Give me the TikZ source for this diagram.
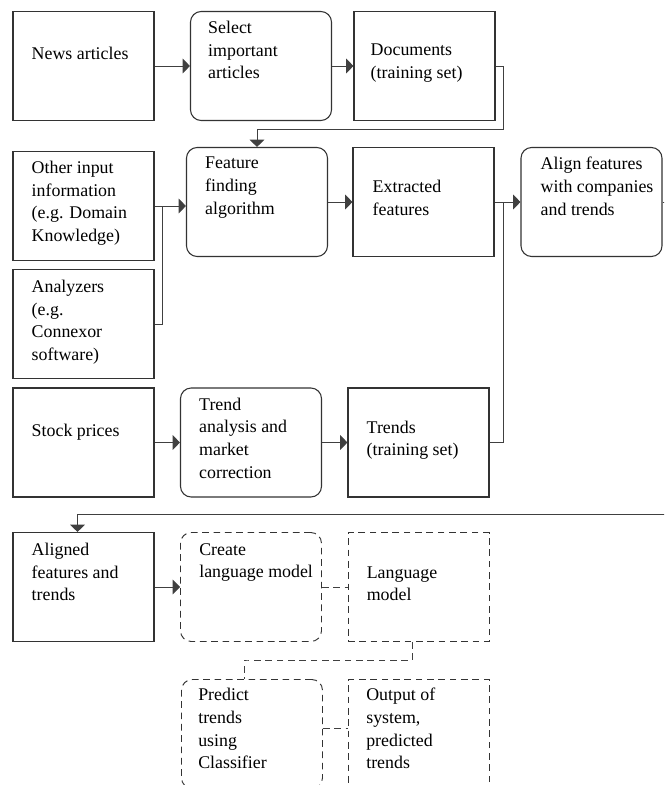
\documentclass[tikz,border=0pt]{standalone}
\usepackage{fontspec}
\setmainfont{Liberation Serif}
\usetikzlibrary{arrows.meta}
\begin{document}
\begin{tikzpicture}[x=0.75pt,y=-0.75pt,
  box/.style={draw=black!80, line width=0.8pt, inner sep=0pt,
    minimum width=105.75pt, minimum height=81.75pt},
  rbox/.style={box, rounded corners=8pt},
  dbox/.style={box, line width=0.7pt, dash pattern=on 5pt off 3.5pt},
  drbox/.style={dbox, rounded corners=8pt},
  txt/.style={anchor=north west, inner sep=0pt, align=left,
    font=\fontsize{13.4}{17}\selectfont, execute at begin node=\strut},
  link/.style={draw=black!75, line width=0.75pt},
  arr/.style={link, -{Triangle[length=5.5pt,width=11pt]}},
  dlink/.style={link, line width=0.7pt, dash pattern=on 5pt off 3.5pt}
]
\useasboundingbox (0,0) rectangle (664,785);
\fill[white] (0,0) rectangle (664,785);
\clip (0,0) rectangle (664,785);

% first row
\node[box]  (news)  at (83.5,66)  {};
\node[rbox] (sel)   at (261,66)   {};
\node[box]  (docs)  at (424.5,66) {};
% second row
\node[box]  (other) at (83.5,206) {};
\node[rbox] (feat)  at (257,202)  {};
\node[box]  (extr)  at (423.5,202) {};
\node[rbox] (align) at (591.5,202) {};
\node[box]  (anal)  at (83.5,324) {};
% third row
\node[box]  (stock) at (83.5,442.5) {};
\node[rbox] (trend) at (251,442.5)  {};
\node[box]  (trends) at (418.5,442.5) {};
% fourth row
\node[box]   (aligned) at (83.5,587) {};
\node[drbox] (create)  at (251,587)  {};
\node[dbox]  (lang)    at (418.5,587) {};
% fifth row
\node[drbox] (pred) at (252,734) {};
\node[dbox]  (outp) at (419,734) {};

% labels
\node[txt] (newsT)   at ([shift={(19,32)}]news.north west)  {News articles};
\node[txt] (selT)    at ([shift={(18,10)}]sel.north west)   {Select\\important\\articles};
\node[txt] (docsT)   at ([shift={(17,33)}]docs.north west)  {Documents\\(training set)};
\node[txt] (otherT)  at ([shift={(19,10)}]other.north west) {Other input\\information\\(e.g. Domain\\Knowledge)};
\node[txt] (featT)   at ([shift={(19,10)}]feat.north west)  {Feature\\finding\\algorithm};
\node[txt] (extrT)   at ([shift={(20,33)}]extr.north west)  {Extracted\\features};
\node[txt] (alignT)  at ([shift={(20,10)}]align.north west) {Align features\\with companies\\and trends};
\node[txt] (analT)   at ([shift={(19,11)}]anal.north west)  {Analyzers\\(e.g.\\Connexor\\software)};
\node[txt] (stockT)  at ([shift={(19,33)}]stock.north west) {Stock prices};
\node[txt] (trendT)  at ([shift={(19,10)}]trend.north west) {Trend\\analysis and\\market\\correction};
\node[txt] (trendsT) at ([shift={(19,33)}]trends.north west) {Trends\\(training set)};
\node[txt] (alignedT) at ([shift={(19,11)}]aligned.north west) {Aligned\\features and\\trends};
\node[txt] (createT) at ([shift={(19,11)}]create.north west) {Create\\language model};
\node[txt] (langT)   at ([shift={(19,34)}]lang.north west)  {Language\\model};
\node[txt] (predT)   at ([shift={(17,9)}]pred.north west)   {Predict\\trends\\using\\Classifier};
\node[txt] (outpT)   at ([shift={(18,9)}]outp.north west)   {Output of\\system,\\predicted\\trends};

% junction points of the connectors
\coordinate (jdocs) at (503,129);
\coordinate (jin)   at (162,206);
\coordinate (jext)  at (503,202);
\coordinate (jret)  at (670,514);

% connectors
\draw[arr] (news) -- (sel);
\draw[arr] (sel) -- (docs);
\draw[arr] (docs.east) -| (jdocs) -| (feat.north);
\draw[arr] (other.east) -- (feat.west |- other.east);
\draw[link] (anal.east) -| (jin);
\draw[arr] (feat) -- (extr);
\draw[arr] (extr) -- (align);
\draw[link] (trends.east) -| (jext);
\draw[arr] (stock) -- (trend);
\draw[arr] (trend) -- (trends);
\draw[arr] (align.east) -| (jret) -| ([shift={(-6,0)}]aligned.north);
\draw[arr] (aligned) -- (create);
\draw[dlink] (create) -- (lang);
\draw[dlink] ([shift={(-6,0)}]lang.south) |- (248,660) -| ([shift={(-8,0)}]pred.north);
\draw[dlink] (pred.east |- 0,728) -- (outp.west |- 0,728);
\end{tikzpicture}
\end{document}
